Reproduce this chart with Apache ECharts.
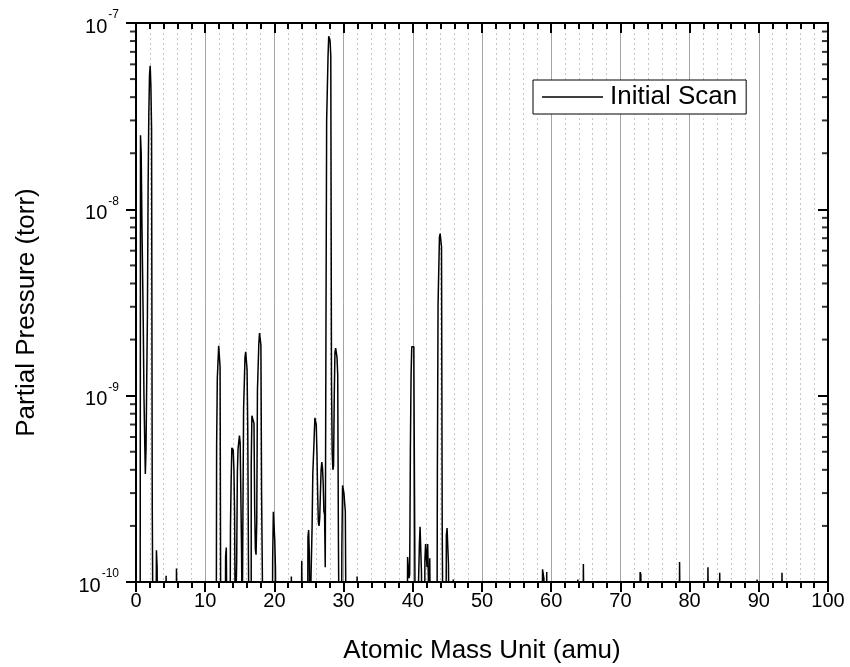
<!DOCTYPE html>
<html>
<head>
<meta charset="utf-8">
<title>RGA scan</title>
<script src="https://cdn.jsdelivr.net/npm/echarts@6/dist/echarts.min.js"></script>
<style>
  html, body { margin: 0; padding: 0; background: #fff; }
  #chart { width: 850px; height: 667px; }
</style>
</head>
<body>
<div id="chart"></div>
<script>
// Readings below the 1e-10 torr display floor
const BELOW = 5e-11;

// Partial pressure readings [mass (amu), pressure (torr)], grouped by mass range
const scanLowMass = [
  [0.6, BELOW], [0.7, 2.5e-8], [0.8, 2.0e-8], [0.9, 8.8e-9], [1.0, 4.6e-9], [1.1, 2.4e-9],
  [1.2, 1.0e-9], [1.3, 6.0e-10], [1.4, 3.8e-10], [1.5, 5.2e-10], [1.6, 1.2e-9], [1.7, 2.7e-9],
  [1.8, 1.3e-8], [1.9, 3.2e-8], [2.0, 5.2e-8], [2.1, 5.9e-8], [2.2, 4.6e-8], [2.3, 2.7e-8],
  [2.4, 2.5e-10], [2.5, BELOW],
  [2.9, BELOW], [3.0, 1.48e-10], [3.1, 1.2e-10], [3.2, BELOW],
  [4.3, BELOW], [4.4, 1.08e-10], [4.5, BELOW],
  [5.8, BELOW], [5.9, 1.18e-10], [6.0, BELOW]
];

const scanCarbonWater = [
  [11.6, BELOW], [11.7, 5.3e-10], [11.8, 1.24e-9], [11.9, 1.24e-9], [12.0, 1.85e-9], [12.1, 1.85e-9],
  [12.2, 1.43e-9], [12.3, BELOW],
  [12.9, BELOW], [13.0, 1.37e-10], [13.1, 1.53e-10], [13.2, BELOW],
  [13.6, BELOW], [13.7, 1.95e-10], [13.8, 3.5e-10], [13.9, 5.25e-10], [14.0, 5.3e-10], [14.1, 5.1e-10],
  [14.2, 4.0e-10], [14.3, 2.3e-10], [14.4, BELOW], [14.5, BELOW],
  [14.6, 1.3e-10], [14.7, 3.9e-10], [14.8, 5.2e-10], [14.9, 5.2e-10], [15.0, 6.1e-10], [15.1, 5.6e-10],
  [15.2, 3.0e-10], [15.3, 1.5e-10], [15.4, BELOW],
  [15.5, 2.3e-10], [15.6, 8.5e-10], [15.7, 8.5e-10], [15.8, 1.6e-9], [15.9, 1.72e-9], [16.0, 1.72e-9],
  [16.1, 1.38e-9], [16.2, 6.6e-10], [16.3, 1.3e-10], [16.4, BELOW], [16.6, BELOW],
  [16.7, 4.2e-10], [16.8, 7.8e-10], [16.9, 7.8e-10], [17.0, 7.9e-10], [17.1, 7.1e-10], [17.2, 2.5e-10],
  [17.3, 1.5e-10], [17.4, 1.4e-10],
  [17.5, 2.1e-10], [17.6, 1.07e-9], [17.7, 1.07e-9], [17.8, 1.9e-9], [17.9, 2.17e-9], [18.0, 2.17e-9],
  [18.1, 1.87e-9], [18.2, 2.9e-10], [18.3, 1.2e-10], [18.4, BELOW],
  [19.7, BELOW], [19.8, 1.32e-10], [19.9, 2.38e-10], [20.0, 2.38e-10], [20.1, 1.68e-10], [20.2, 1.2e-10],
  [20.3, BELOW],
  [22.4, BELOW], [22.5, 1.07e-10], [22.6, BELOW]
];

const scanAirGases = [
  [23.9, BELOW], [24.0, 1.3e-10], [24.1, BELOW],
  [24.8, BELOW], [24.9, 1.75e-10], [25.0, 1.9e-10], [25.1, 1.4e-10], [25.2, BELOW],
  [25.4, 1.1e-10], [25.5, 2.0e-10], [25.6, 3.8e-10], [25.7, 3.8e-10], [25.8, 6.0e-10], [25.9, 7.6e-10],
  [26.0, 7.6e-10], [26.1, 7.0e-10], [26.2, 4.9e-10], [26.3, 3.0e-10], [26.4, 2.1e-10], [26.5, 2.0e-10],
  [26.6, 2.2e-10], [26.7, 3.0e-10], [26.8, 4.0e-10], [26.9, 4.4e-10], [27.0, 4.1e-10], [27.1, 3.4e-10],
  [27.2, 2.4e-10], [27.3, 2.3e-10], [27.4, 1.2e-10],
  [27.5, 2.2e-9], [27.6, 3.0e-8], [27.7, 3.0e-8], [27.8, 6.6e-8], [27.9, 8.5e-8], [28.0, 8.5e-8],
  [28.1, 8.0e-8], [28.2, 6.6e-8], [28.3, 1.2e-9], [28.4, 5.0e-10], [28.5, 4.0e-10], [28.6, 4.2e-10],
  [28.7, 1.0e-9], [28.8, 1.7e-9], [28.9, 1.8e-9], [29.0, 1.8e-9], [29.1, 1.6e-9], [29.2, 1.29e-9],
  [29.3, 1.7e-10], [29.4, BELOW],
  [29.7, BELOW], [29.8, 1.5e-10], [29.9, 3.3e-10], [30.0, 3.3e-10], [30.1, 3.0e-10], [30.2, 2.65e-10],
  [30.3, 2.4e-10], [30.4, BELOW],
  [31.9, BELOW], [32.0, 1.07e-10], [32.1, BELOW]
];

const scanArgonCO2 = [
  [39.2, BELOW], [39.3, 1.36e-10], [39.4, 1.2e-10], [39.5, 1.05e-10], [39.6, 1.1e-10],
  [39.7, 5.1e-10], [39.8, 1.29e-9], [39.9, 1.83e-9], [40.0, 1.83e-9], [40.1, 1.83e-9], [40.2, 1.62e-9],
  [40.3, 2.9e-10], [40.4, BELOW],
  [40.9, BELOW], [41.0, 1.58e-10], [41.1, 1.98e-10], [41.2, 1.98e-10], [41.3, 1.14e-10], [41.4, BELOW],
  [41.7, BELOW], [41.8, 1.31e-10], [41.9, 1.6e-10], [42.0, 1.6e-10], [42.1, 1.2e-10], [42.2, 1.6e-10],
  [42.3, 1.05e-10], [42.4, BELOW], [42.5, 1.34e-10], [42.6, BELOW],
  [43.5, BELOW], [43.6, 3.7e-10], [43.7, 3.1e-9], [43.8, 3.1e-9], [43.9, 7.1e-9], [44.0, 7.4e-9],
  [44.1, 7.4e-9], [44.2, 6.3e-9], [44.3, 2.0e-10], [44.4, BELOW],
  [44.8, BELOW], [44.9, 1.78e-10], [45.0, 1.95e-10], [45.1, 1.95e-10], [45.2, 1.26e-10], [45.3, BELOW],
  [45.8, BELOW], [45.9, 1.03e-10], [46.0, BELOW]
];

const scanHighMass = [
  [58.7, BELOW], [58.8, 1.17e-10], [58.9, 1.17e-10], [59.0, 1.04e-10], [59.1, BELOW],
  [59.3, BELOW], [59.4, 1.13e-10], [59.5, BELOW],
  [63.8, BELOW], [63.9, 1.03e-10], [64.0, BELOW],
  [64.6, BELOW], [64.7, 1.25e-10], [64.8, BELOW],
  [72.8, BELOW], [72.9, 1.13e-10], [73.0, 1.1e-10], [73.1, BELOW],
  [78.5, BELOW], [78.6, 1.28e-10], [78.7, BELOW],
  [82.6, BELOW], [82.7, 1.2e-10], [82.8, BELOW],
  [84.3, BELOW], [84.4, 1.12e-10], [84.5, BELOW],
  [89.7, BELOW], [89.8, 1.03e-10], [89.9, BELOW],
  [93.3, BELOW], [93.4, 1.12e-10], [93.5, BELOW]
];

// Axis ticks
const massRange = [0, 100];
const massStep = 10;
const pressureDecades = [1e-10, 1e-9, 1e-8, 1e-7];
const minorMultipliers = [2, 3, 4, 5, 6, 7, 8, 9];
const pressureMinorTicks = [];
for (let d = 0; d < pressureDecades.length - 1; d++) {
  minorMultipliers.forEach(function (k) { pressureMinorTicks.push(k * pressureDecades[d]); });
}

const seriesName = 'Initial Scan';
const xTitle = 'Atomic Mass Unit (amu)';
const yTitle = 'Partial Pressure (torr)';

const scan = [].concat(scanLowMass, scanCarbonWater, scanAirGases, scanArgonCO2, scanHighMass);

const FONT = '"Liberation Sans", Arial, Helvetica, sans-serif';
const axisBlack = { color: '#000', width: 2 };

function decadeLabel(v) {
  const e = Math.round(Math.log10(v));
  return '{b|10}{s|' + e + '}';
}

const logAxisBase = {
  type: 'log',
  logBase: 10,
  min: pressureDecades[0],
  max: pressureDecades[pressureDecades.length - 1],
  splitLine: { show: false },
  minorTick: { show: false },
  minorSplitLine: { show: false }
};

// Short log-spaced minor ticks on the left (outward) and right (inward) frame edges
function minorTickSeries(mass, offsetX) {
  return {
    type: 'scatter',
    xAxisIndex: 0,
    yAxisIndex: 0,
    data: pressureMinorTicks.map(function (v) { return [mass, v]; }),
    symbol: 'rect',
    symbolSize: [6, 2],
    symbolOffset: [offsetX, 0],
    itemStyle: { color: '#000' },
    clip: false,
    silent: true,
    z: 5,
    emphasis: { disabled: true }
  };
}

const chart = echarts.init(document.getElementById('chart'), null, { renderer: 'canvas' });

chart.setOption({
  animation: false,
  backgroundColor: '#fff',
  grid: { left: 136, right: 22, top: 23, bottom: 85, containLabel: false, outerBoundsMode: 'none' },
  legend: {
    data: [seriesName],
    left: 533,
    top: 80,
    icon: 'rect',
    itemWidth: 61,
    itemHeight: 1.5,
    padding: [4, 9, 4, 9],
    borderColor: '#000',
    borderWidth: 1,
    backgroundColor: '#fff',
    borderRadius: 0,
    itemStyle: { color: '#000' },
    textStyle: { fontSize: 26, color: '#000', fontFamily: FONT, padding: [0, 0, 0, 2] }
  },
  xAxis: [
    {
      type: 'value',
      position: 'bottom',
      min: massRange[0],
      max: massRange[1],
      interval: massStep,
      axisLine: { onZero: false, lineStyle: axisBlack },
      axisTick: { length: 10, lineStyle: axisBlack },
      minorTick: { show: true, splitNumber: 5, length: 6, lineStyle: axisBlack },
      splitLine: { show: true, lineStyle: { color: '#a4a4a4', width: 1 } },
      minorSplitLine: { show: true, lineStyle: { color: '#c6c6c6', width: 1, type: [2, 3] } },
      axisLabel: { fontSize: 20, color: '#000', fontFamily: FONT, margin: 9 },
      name: xTitle,
      nameLocation: 'middle',
      nameGap: 56,
      nameTextStyle: { fontSize: 26, color: '#000', fontFamily: FONT }
    },
    {
      type: 'value',
      position: 'top',
      min: massRange[0],
      max: massRange[1],
      interval: massStep,
      axisLine: { onZero: false, lineStyle: axisBlack },
      axisTick: { inside: true, length: 10, lineStyle: axisBlack },
      minorTick: { show: true, splitNumber: 5, length: 6, lineStyle: axisBlack },
      splitLine: { show: false },
      axisLabel: { show: false }
    }
  ],
  yAxis: [
    Object.assign({}, logAxisBase, {
      position: 'left',
      axisLine: { show: true, onZero: false, lineStyle: axisBlack },
      axisTick: { show: true, length: 10, lineStyle: axisBlack },
      axisLabel: {
        margin: 17,
        formatter: decadeLabel,
        rich: {
          b: { fontSize: 20, color: '#000', fontFamily: FONT, lineHeight: 28, verticalAlign: 'bottom' },
          s: { fontSize: 12, color: '#000', fontFamily: FONT, lineHeight: 12, verticalAlign: 'top', padding: [0, 0, 0, 1] }
        }
      },
      name: yTitle,
      nameLocation: 'middle',
      nameGap: 96,
      nameTextStyle: { fontSize: 26, color: '#000', fontFamily: FONT, padding: [0, 20, 0, 0] }
    }),
    Object.assign({}, logAxisBase, {
      position: 'right',
      axisLine: { show: true, onZero: false, lineStyle: axisBlack },
      axisTick: { show: true, inside: true, length: 10, lineStyle: axisBlack },
      axisLabel: { show: false }
    })
  ],
  series: [
    {
      name: seriesName,
      type: 'line',
      xAxisIndex: 0,
      yAxisIndex: 0,
      data: scan,
      step: 'middle',
      symbol: 'none',
      showSymbol: false,
      clip: true,
      lineStyle: { color: '#000', width: 1.5 },
      itemStyle: { color: '#000' },
      emphasis: { disabled: true }
    },
    minorTickSeries(massRange[0], -3),
    minorTickSeries(massRange[1], -3)
  ]
});
</script>
</body>
</html>
